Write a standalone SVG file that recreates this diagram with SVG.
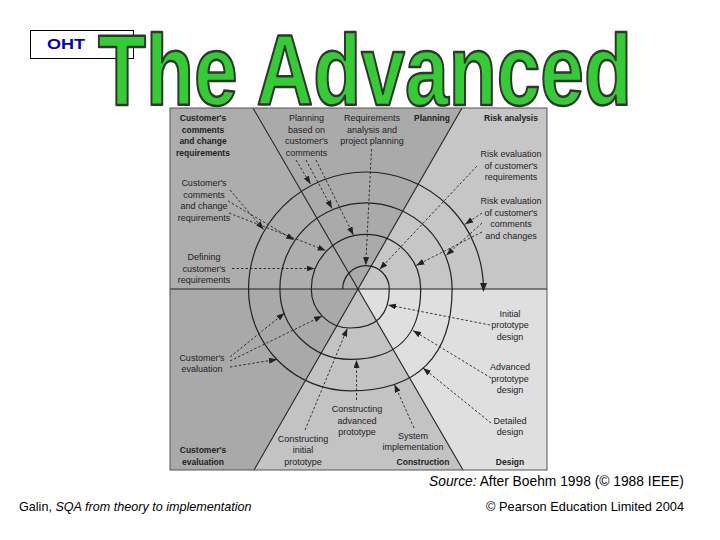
<svg xmlns="http://www.w3.org/2000/svg" width="720" height="540" viewBox="0 0 720 540">
<defs>
<style>
.lbl{font-family:"Liberation Sans",Arial,sans-serif;font-size:9px;fill:#222;text-anchor:middle}
.b{font-weight:bold;font-size:8.5px}
.div{stroke:#222;stroke-width:1.1;fill:none}
.arr{stroke:#222;stroke-width:0.9;stroke-dasharray:2.5 2;fill:none;marker-end:url(#ah)}
.spiral{stroke:#222;stroke-width:1.2;fill:none;marker-end:url(#ah2)}
.foot{font-family:"Liberation Sans",Arial,sans-serif;fill:#000}
</style>
<marker id="ah" markerUnits="userSpaceOnUse" markerWidth="9" markerHeight="6" refX="8" refY="3" orient="auto" viewBox="0 0 9 6"><path d="M0,0 L8,3 L0,6 Z" fill="#222"/></marker>
<marker id="ah2" markerUnits="userSpaceOnUse" markerWidth="10" markerHeight="7" refX="7" refY="3.5" orient="auto" viewBox="0 0 10 7"><path d="M0,0 L9,3.5 L0,7 Z" fill="#222"/></marker>
</defs>
<rect width="720" height="540" fill="#fff"/>

<g id="sectors">
<polygon points="170,108 253,108 358,289 170,289" fill="#adadad"/>
<polygon points="253,108 462,108 358,289" fill="#aaaaaa"/>
<polygon points="462,108 547,108 547,289 358,289" fill="#c6c6c6"/>
<polygon points="358,289 547,289 547,470 463,470" fill="#dfdfdf"/>
<polygon points="358,289 463,470 254,470" fill="#c3c3c3"/>
<polygon points="170,289 358,289 254,470 170,470" fill="#a9a9a9"/>
<line class="div" x1="253" y1="108" x2="463" y2="470"/>
<line class="div" x1="462" y1="108" x2="254" y2="470"/>
<line class="div" x1="170" y1="289" x2="547" y2="289"/>
<rect x="170" y="108" width="377" height="362" fill="none" stroke="#555" stroke-width="1"/>
</g>

<g id="spiral">
<path class="spiral" d="M342.7,289 A23.3,23.3 0 0 1 389.3,289 C389.3,314.7 376,328 350.3,328 A39,39 0 0 1 311.3,289 A54.7,54.7 0 0 1 420.7,289 C420.7,335.5 396.8,359.4 350.3,359.4 A70.4,70.4 0 0 1 279.9,289 A86.1,86.1 0 0 1 452.1,289 C452.1,356.2 417.5,390.8 350.3,390.8 A101.8,101.8 0 0 1 248.5,289 A117.5,117.5 0 0 1 483.5,290"/>
</g>

<g id="connectors">
<line class="arr" x1="296" y1="160" x2="310.5" y2="184"/>
<line class="arr" x1="306" y1="160" x2="332" y2="208.4"/>
<line class="arr" x1="316" y1="160" x2="353.4" y2="235"/>
<line class="arr" x1="371.5" y1="149" x2="365.7" y2="265.2"/>
<line class="arr" x1="477" y1="166" x2="379.7" y2="269.3"/>
<line class="arr" x1="482" y1="213" x2="465.2" y2="224.2"/>
<line class="arr" x1="482" y1="223" x2="446.3" y2="255.3"/>
<line class="arr" x1="482" y1="232" x2="416.2" y2="265.4"/>
<line class="arr" x1="230" y1="190" x2="263.5" y2="229.4"/>
<line class="arr" x1="228" y1="201" x2="294.2" y2="239.9"/>
<line class="arr" x1="229" y1="213" x2="325.7" y2="250.5"/>
<line class="arr" x1="232" y1="268.5" x2="314.5" y2="268.5"/>
<line class="arr" x1="230" y1="357" x2="284.5" y2="313"/>
<line class="arr" x1="230" y1="361" x2="322.1" y2="316"/>
<line class="arr" x1="230" y1="367" x2="276.9" y2="359.4"/>
<line class="arr" x1="305" y1="430" x2="347.3" y2="328.5"/>
<line class="arr" x1="356.5" y1="400" x2="356.5" y2="360"/>
<line class="arr" x1="414" y1="428" x2="394.5" y2="384.5"/>
<line class="arr" x1="490" y1="325" x2="388" y2="305"/>
<line class="arr" x1="491" y1="378" x2="413" y2="330.5"/>
<line class="arr" x1="491" y1="423" x2="423" y2="368"/>
</g>

<g id="q-customer-comments"><text class="lbl b"><tspan x="203" y="121">Customer's</tspan><tspan x="203" y="132.5">comments</tspan><tspan x="203" y="144">and change</tspan><tspan x="203" y="155.5">requirements</tspan></text></g>
<g id="planning-based"><text class="lbl"><tspan x="306.5" y="121">Planning</tspan><tspan x="306.5" y="132.5">based on</tspan><tspan x="306.5" y="144">customer's</tspan><tspan x="306.5" y="155.5">comments</tspan></text></g>
<g id="req-analysis"><text class="lbl"><tspan x="372" y="121">Requirements</tspan><tspan x="372" y="132.5">analysis and</tspan><tspan x="372" y="144">project planning</tspan></text></g>
<g id="q-planning"><text class="lbl b" x="432" y="121">Planning</text></g>
<g id="q-risk"><text class="lbl b" x="511" y="121">Risk analysis</text></g>
<g id="risk-req"><text class="lbl"><tspan x="511" y="157">Risk evaluation</tspan><tspan x="511" y="168.5">of customer's</tspan><tspan x="511" y="180">requirements</tspan></text></g>
<g id="risk-comments"><text class="lbl"><tspan x="511" y="204">Risk evaluation</tspan><tspan x="511" y="215.5">of customer's</tspan><tspan x="511" y="227">comments</tspan><tspan x="511" y="238.5">and changes</tspan></text></g>
<g id="customer-comments"><text class="lbl"><tspan x="204" y="186">Customer's</tspan><tspan x="204" y="197.5">comments</tspan><tspan x="204" y="209">and change</tspan><tspan x="204" y="220.5">requirements</tspan></text></g>
<g id="defining"><text class="lbl"><tspan x="204" y="260">Defining</tspan><tspan x="204" y="271.5">customer's</tspan><tspan x="204" y="283">requirements</tspan></text></g>
<g id="customer-eval"><text class="lbl"><tspan x="202" y="360.5">Customer's</tspan><tspan x="202" y="372">evaluation</tspan></text></g>
<g id="q-customer-eval"><text class="lbl b"><tspan x="203" y="452.5">Customer's</tspan><tspan x="203" y="464.5">evaluation</tspan></text></g>
<g id="constr-initial"><text class="lbl"><tspan x="303" y="441.5">Constructing</tspan><tspan x="303" y="453">initial</tspan><tspan x="303" y="464.5">prototype</tspan></text></g>
<g id="constr-advanced"><text class="lbl"><tspan x="357" y="412">Constructing</tspan><tspan x="357" y="423.5">advanced</tspan><tspan x="357" y="435">prototype</tspan></text></g>
<g id="system-impl"><text class="lbl"><tspan x="413" y="438.5">System</tspan><tspan x="413" y="450">implementation</tspan></text></g>
<g id="q-construction"><text class="lbl b" x="423" y="464.5">Construction</text></g>
<g id="initial-design"><text class="lbl"><tspan x="510" y="316.5">Initial</tspan><tspan x="510" y="328">prototype</tspan><tspan x="510" y="339.5">design</tspan></text></g>
<g id="advanced-design"><text class="lbl"><tspan x="510" y="370">Advanced</tspan><tspan x="510" y="381.5">prototype</tspan><tspan x="510" y="393">design</tspan></text></g>
<g id="detailed-design"><text class="lbl"><tspan x="510" y="423.5">Detailed</tspan><tspan x="510" y="435">design</tspan></text></g>
<g id="q-design"><text class="lbl b" x="510" y="464.5">Design</text></g>

<g id="oht">
<rect x="30.5" y="30.5" width="103" height="28" fill="#fff" stroke="#000" stroke-width="1"/>
<text x="47" y="48.5" font-family="Liberation Sans, Arial, sans-serif" font-weight="bold" font-size="14" fill="#0000cc" textLength="38" lengthAdjust="spacingAndGlyphs">OHT</text>
</g>
<g id="title">
<text x="98" y="105" font-family="Liberation Sans, Arial, sans-serif" font-weight="bold" font-size="101" fill="#33cc33" stroke="#333" stroke-width="2.5" stroke-linejoin="round" textLength="534" lengthAdjust="spacingAndGlyphs">The Advanced</text>
</g>

<g id="footer">
<text class="foot" x="429" y="486" font-size="13.8"><tspan font-style="italic">Source:</tspan> After Boehm 1998 (© 1988 IEEE)</text>
<text class="foot" x="19" y="510.5" font-size="12.6">Galin, <tspan font-style="italic">SQA from theory to implementation</tspan></text>
<text class="foot" x="684" y="510.5" font-size="12.8" text-anchor="end">© Pearson Education Limited 2004</text>
</g>
</svg>
